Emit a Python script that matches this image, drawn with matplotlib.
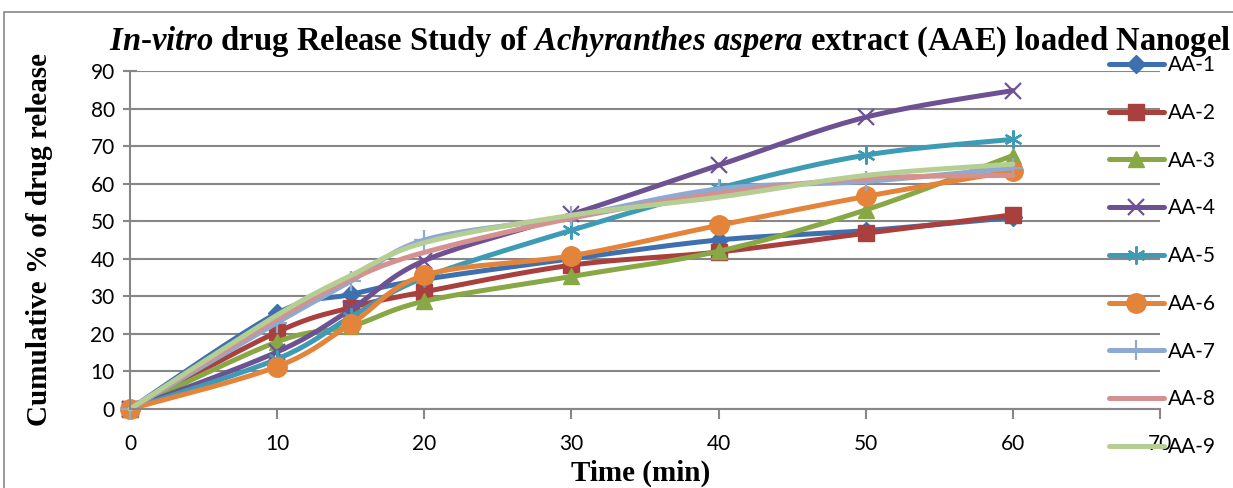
import numpy as np
import matplotlib
matplotlib.use('Agg')
import matplotlib.pyplot as plt
from matplotlib.patches import Rectangle

# data
time = [0, 10, 15, 20, 30, 40, 50, 60]
aa1 = [0, 25.5, 30.5, 34.5, 40.0, 45.0, 47.5, 51.0]
aa2 = [0, 20.5, 27.0, 31.2, 38.3, 41.8, 46.8, 51.7]
aa3 = [0, 17.9, 22.0, 28.7, 35.3, 42.0, 53.0, 67.5]
aa4 = [0, 15.2, 26.5, 39.5, 51.8, 64.9, 77.7, 84.8]
aa5 = [0, 13.3, 24.5, 35.0, 47.6, 58.8, 67.6, 71.8]
aa6 = [0, 11.3, 22.6, 35.6, 40.8, 48.9, 56.6, 63.4]
aa7 = [0, 23.0, 34.0, 45.0, 51.3, 58.6, 60.6, 64.2]
aa8 = [0, 24.0, 34.5, 41.7, 50.8, 57.4, 61.4, 62.2]
aa9 = [0, 25.0, 35.5, 44.3, 51.6, 56.4, 62.2, 65.2]
labels = ['AA-1', 'AA-2', 'AA-3', 'AA-4', 'AA-5', 'AA-6', 'AA-7', 'AA-8', 'AA-9']
series = [aa1, aa2, aa3, aa4, aa5, aa6, aa7, aa8, aa9]

colors = ['#3E6FAE', '#AA403D', '#87A845', '#6E5193', '#3D9BB5',
          '#E4833A', '#8EA9D2', '#D49190', '#B5CE93']
markers = ['D', 's', '^', 'x', (6, 2, 0), 'o', '+', None, None]
msizes = [9, 11, 12, 12, 13, 14, 14, 0, 0]

plt.rcParams['mathtext.fontset'] = 'custom'
plt.rcParams['mathtext.it'] = 'Liberation Serif:italic:bold'
plt.rcParams['mathtext.rm'] = 'Liberation Serif:bold'

NSEG = 20


def smooth(x, y, n=NSEG):
    # excel-like smoothed line (bezier through the points)
    pts = np.column_stack([x, y]).astype(float)
    out = [pts[0]]
    for i in range(len(pts) - 1):
        p0 = pts[i - 1] if i > 0 else pts[i]
        p1, p2 = pts[i], pts[i + 1]
        p3 = pts[i + 2] if i + 2 < len(pts) else p2
        c1 = p1 + (p2 - p0) / 6
        c2 = p2 - (p3 - p1) / 6
        t = np.linspace(0, 1, n)[1:, None]
        seg = (1 - t)**3 * p1 + 3 * (1 - t)**2 * t * c1 + 3 * (1 - t) * t**2 * c2 + t**3 * p2
        out.extend(seg)
    return np.array(out)


fig = plt.figure(figsize=(12.33, 4.88), dpi=100)
ax = fig.add_axes([130/1233, 1 - 409/488, 1030/1233, 338/488])

for y, lab, c, m, ms in zip(series, labels, colors, markers, msizes):
    s = smooth(time, y)
    idx = list(range(0, len(s), NSEG - 1))
    ax.plot(s[:, 0], s[:, 1], color=c, lw=3.6, label=lab, solid_capstyle='round',
            marker=m, markersize=ms, markevery=idx, markeredgecolor=c,
            markeredgewidth=1.6 if m in ('x', '+', (6, 2, 0)) else 1, clip_on=False)

ax.set_xlim(0, 70)
ax.set_ylim(0, 90)
ax.set_xticks(range(0, 71, 10))
ax.set_yticks(range(0, 91, 10))
ax.grid(axis='y', color='#878787', lw=1.5)
ax.set_axisbelow(True)
for sp in ['top', 'right']:
    ax.spines[sp].set_visible(False)
for sp in ['left', 'bottom']:
    ax.spines[sp].set_color('#878787')
    ax.spines[sp].set_linewidth(1.5)
ax.tick_params(axis='both', colors='#878787', width=1.5, labelsize=15,
               labelcolor='black')
ax.tick_params(axis='x', length=7, pad=11)
ax.tick_params(axis='y', direction='inout', length=10, pad=6)
for t in ax.get_xticklabels() + ax.get_yticklabels():
    t.set_family('Lato')

ax.set_xlabel('Time (min)', family='Liberation Serif', weight='bold', fontsize=21)
ax.set_ylabel('Cumulative % of drug release', family='Liberation Serif', weight='bold',
              fontsize=21)
ax.xaxis.set_label_coords(0.496, -0.15)
ax.yaxis.set_label_coords(-0.075, 0.5)

fig.text(670/1233, 1 - 42/488,
         r'$In$-$vitro$ drug Release Study of $Achyranthes\ aspera$ extract (AAE) loaded Nanogel',
         ha='center', va='center', family='Liberation Serif', weight='bold', fontsize=23.5)

leg = ax.legend(loc='upper left', bbox_to_anchor=(1101/1233, 1 - 47/488),
                bbox_transform=fig.transFigure, frameon=False, fontsize=15,
                handlelength=2.6, handletextpad=0.2, labelspacing=1.33,
                numpoints=1, borderaxespad=0)
for t in leg.get_texts():
    t.set_family('Lato')

fig.patches.append(Rectangle((4/1233, -0.01), 1.0, 1 - 12/488 + 0.01,
                             transform=fig.transFigure, fill=False,
                             edgecolor='#878787', lw=1.2))

fig.savefig('out.png', dpi=100)
